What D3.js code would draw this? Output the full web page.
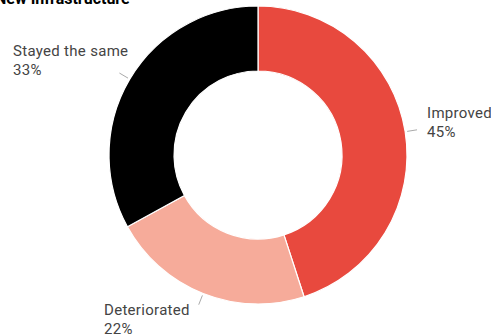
<!DOCTYPE html>
<html>
<head>
<meta charset="utf-8">
<script src="https://cdn.jsdelivr.net/npm/d3@7"></script>
<style>
  html, body { margin: 0; padding: 0; background: #fff; overflow: hidden; }
  svg { display: block; font-family: Roboto, "Noto Sans", sans-serif; }
</style>
</head>
<body>
<svg id="chart" width="491" height="335"></svg>
<script>
// Survey answers on new infrastructure
const categories = ["Improved", "Deteriorated", "Stayed the same"];
const shares = [45, 22, 33];
const colors = ["#E8493E", "#F6AB9A", "#000000"];
const title = "New Infrastructure";

const svg = d3.select("#chart");
const cx = 258, cy = 155, outerR = 149, innerR = 84;

svg.append("text")
  .attr("x", -5).attr("y", 4)
  .attr("font-size", 16).attr("font-weight", 700)
  .attr("fill", "#000")
  .text(title);

const data = categories.map((c, i) => ({ name: c, value: shares[i], color: colors[i] }));
const pie = d3.pie().value(d => d.value).sort(null);
const arc = d3.arc().innerRadius(innerR).outerRadius(outerR);
const arcs = pie(data);

const g = svg.append("g").attr("transform", `translate(${cx},${cy})`);
g.selectAll("path").data(arcs).join("path")
  .attr("d", arc)
  .attr("fill", d => d.data.color)
  .attr("stroke", "#fff")
  .attr("stroke-width", 1.2);

// leader lines and labels
const labelPos = [
  { x: 427, y: 118 },
  { x: 104, y: 315 },
  { x: 13, y: 56 }
];
arcs.forEach((a, i) => {
  const mid = (a.startAngle + a.endAngle) / 2;
  const p1 = [Math.sin(mid) * (outerR + 2), -Math.cos(mid) * (outerR + 2)];
  const p2 = [Math.sin(mid) * (outerR + 12), -Math.cos(mid) * (outerR + 12)];
  g.append("line")
    .attr("x1", p1[0]).attr("y1", p1[1])
    .attr("x2", p2[0]).attr("y2", p2[1])
    .attr("stroke", "#aaa").attr("stroke-width", 1);
  const t = svg.append("text")
    .attr("x", labelPos[i].x).attr("y", labelPos[i].y)
    .attr("font-size", 15).attr("letter-spacing", 0.3)
    .attr("fill", "#444");
  t.append("tspan").attr("x", labelPos[i].x).text(a.data.name);
  t.append("tspan").attr("x", labelPos[i].x).attr("dy", 19).text(a.data.value + "%");
});
</script>
</body>
</html>
